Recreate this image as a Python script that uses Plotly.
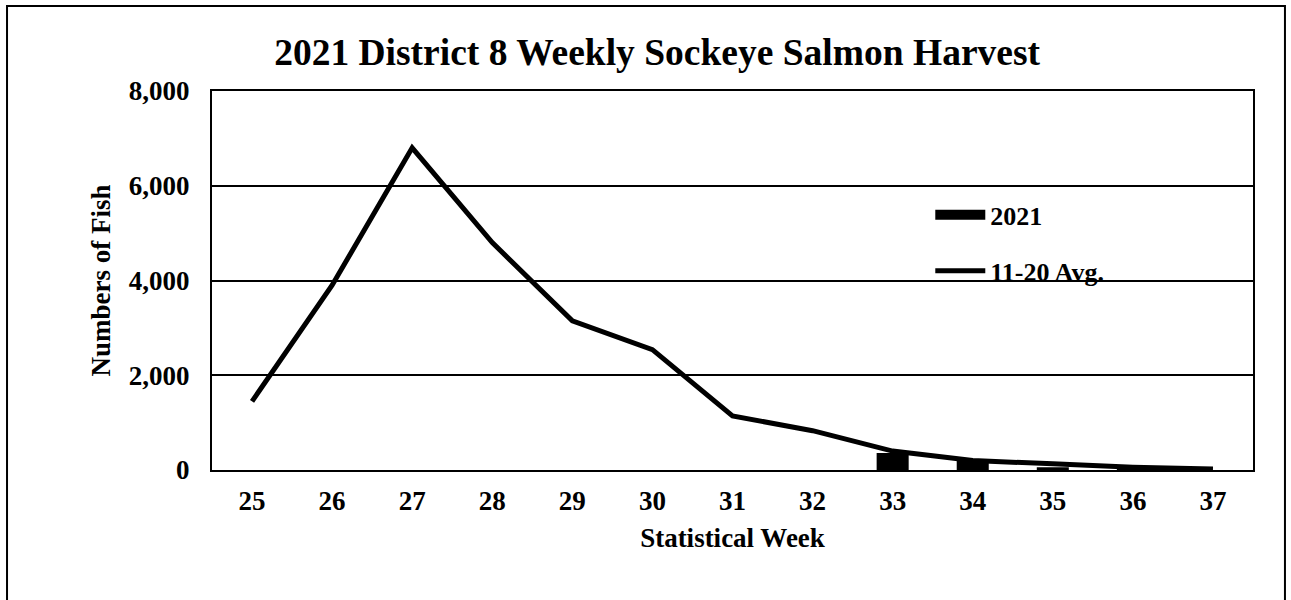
import plotly.graph_objects as go

weeks = ["25", "26", "27", "28", "29", "30", "31", "32", "33", "34", "35", "36", "37"]
harvest_2021 = [0, 0, 0, 0, 0, 0, 0, 0, 360, 220, 60, 10, 0]
avg_11_20 = [1450, 3900, 6800, 4800, 3150, 2540, 1140, 830, 400, 200, 130, 60, 20]
y_ticks = [0, 2000, 4000, 6000, 8000]
y_tick_labels = ["0", "2,000", "4,000", "6,000", "8,000"]

FONT = "Liberation Serif, Times New Roman, serif"

fig = go.Figure()
fig.add_trace(go.Bar(x=weeks, y=harvest_2021, name="<b>2021</b>", legendgroup="g1",
                     showlegend=False,
                     marker=dict(color="black", line=dict(width=0)), width=0.4))
# legend glyph for the bar series (wide rectangle as in the original legend)
fig.add_trace(go.Scatter(x=[None], y=[None], name="<b>2021</b>", legendgroup="g1",
                         mode="lines", line=dict(color="black", width=13), hoverinfo="skip"))
fig.add_trace(go.Scatter(x=weeks, y=avg_11_20, name="<b>11-20 Avg.</b>", mode="lines",
                         legendgroup="g2", line=dict(color="black", width=5)))

fig.update_layout(
    width=1291, height=600,
    margin=dict(l=212, r=38, t=91, b=130),
    paper_bgcolor="white", plot_bgcolor="white",
    font=dict(family=FONT, color="black", size=27),
    title=dict(text="<b>2021 District 8 Weekly Sockeye Salmon Harvest</b>",
               x=0.509, xanchor="center", y=0.913, yanchor="middle",
               font=dict(family=FONT, size=37.5, color="black")),
    showlegend=True,
    legend=dict(x=0.69, y=0.735, xanchor="left", yanchor="top",
                bgcolor="rgba(0,0,0,0)", font=dict(family=FONT, size=26, color="black"),
                itemwidth=50, tracegroupgap=19),
    bargap=0.6,
    xaxis=dict(type="category", showline=True, linecolor="black", linewidth=2, mirror=True,
               ticks="", showgrid=False, ticklabelstandoff=6,
               tickfont=dict(family=FONT, size=27, color="black"),
               tickprefix="<b>", ticksuffix="</b>",
               title=dict(text="<b>Statistical Week</b>", font=dict(family=FONT, size=27), standoff=13)),
    yaxis=dict(range=[0, 8000], tickvals=y_ticks,
               ticktext=["<b>%s</b>" % t for t in y_tick_labels],
               showline=True, linecolor="black", linewidth=2, mirror=True,
               showgrid=True, gridcolor="black", gridwidth=1.5, zeroline=False,
               ticks="", ticklen=0, ticklabelstandoff=15,
               tickfont=dict(family=FONT, size=27, color="black"),
               title=dict(text="<b>Numbers of Fish</b>", font=dict(family=FONT, size=27), standoff=10)),
)

fig.add_shape(type="rect", xref="paper", yref="paper",
              x0=-0.1969, x1=1.0307, y0=-0.45, y1=1.2243,
              line=dict(color="black", width=2), fillcolor="rgba(0,0,0,0)", layer="below")

fig.write_html("out.html", config={"displayModeBar": False},
               post_script="document.body.style.margin='0';")
